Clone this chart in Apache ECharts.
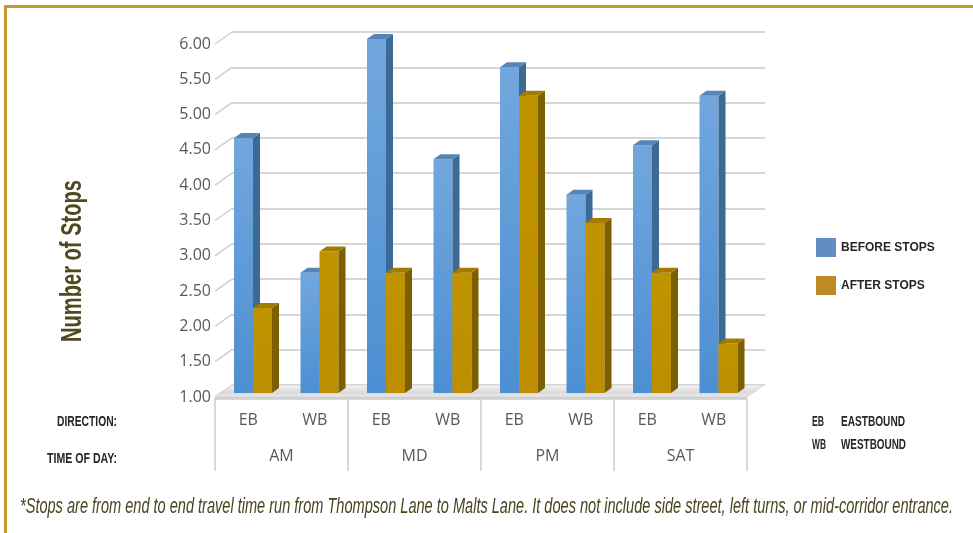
<!DOCTYPE html>
<html>
<head>
<meta charset="utf-8">
<script src="https://cdn.jsdelivr.net/npm/echarts@6/dist/echarts.min.js"></script>
<style>
html,body{margin:0;padding:0;background:#fff;}
#chart{width:973px;height:533px;}
</style>
</head>
<body>
<div id="chart"></div>
<script>
const categories = ['EB', 'WB', 'EB', 'WB', 'EB', 'WB', 'EB', 'WB'];
const timeOfDay = ['AM', 'MD', 'PM', 'SAT'];
const beforeStops = [4.6, 2.7, 6.0, 4.3, 5.6, 3.8, 4.5, 5.2];
const afterStops = [2.2, 3.0, 2.7, 2.7, 5.2, 3.4, 2.7, 1.7];
const yTicks = [1.00, 1.50, 2.00, 2.50, 3.00, 3.50, 4.00, 4.50, 5.00, 5.50, 6.00];
const seriesNames = ['BEFORE STOPS', 'AFTER STOPS'];
const footnote = '*Stops are from end to end travel time run from Thompson Lane to Malts Lane. It does not include side street, left turns, or mid-corridor entrance.';

const SANS = '"Liberation Sans", Arial, sans-serif';
const BODY = '"Open Sans", "Liberation Sans", sans-serif';

// measure text to condense it (no narrow font available offline)
const mctx = document.createElement('canvas').getContext('2d');
function fit(text, font, target) {
  mctx.font = font;
  return target / mctx.measureText(text).width;
}

const chart = echarts.init(document.getElementById('chart'), null, {renderer: 'canvas'});

const DEPTH_X = 17, DEPTH_Y = -12;
const BAR_W = 19, BAR_DX = 7, BAR_DY = -5;

function barRenderer(side, c) {
  return function (params, api) {
    const i = api.value(0), v = api.value(1);
    const top = api.coord([i, v]);
    const base = api.coord([i, yTicks[0]]);
    const cx = top[0] - 3.5;
    const x0 = side < 0 ? cx - BAR_W : cx;
    const x1 = x0 + BAR_W;
    const yt = top[1], yb = base[1];
    return {
      type: 'group',
      children: [
        {type: 'rect', shape: {x: x0, y: yt, width: BAR_W, height: yb - yt},
         style: {fill: new echarts.graphic.LinearGradient(0, 0, 0, 1, [
           {offset: 0, color: c.frontTop}, {offset: 1, color: c.frontBottom}])}},
        {type: 'polygon', shape: {points: [[x1, yt], [x1 + BAR_DX, yt + BAR_DY], [x1 + BAR_DX, yb + BAR_DY], [x1, yb]]},
         style: {fill: c.side}},
        {type: 'polygon', shape: {points: [[x0, yt], [x0 + BAR_DX, yt + BAR_DY], [x1 + BAR_DX, yt + BAR_DY], [x1, yt]]},
         style: {fill: c.top}}
      ]
    };
  };
}

const blue = {frontTop: '#72A7DD', frontBottom: '#4C8FD2', side: '#3D6997', top: '#5484B8'};
const gold = {frontTop: '#C09300', frontBottom: '#BC8E00', side: '#7D5F00', top: '#A27B00'};

function condensedText(x, y, text, font, width, align, color, extra) {
  return Object.assign({
    type: 'text', x: x, y: y, scaleX: fit(text, font, width), silent: true,
    style: {text: text, fill: color, font: font, textAlign: align, textVerticalAlign: 'middle'}
  }, extra || {});
}

const labFont = 'bold 15px ' + SANS;
const labColor = '#262626';

const option = {
  animation: false,
  backgroundColor: '#ffffff',
  grid: [
    {left: 215, top: 44, width: 532, height: 353},   // front plane
    {left: 232, top: 32, width: 533, height: 353},   // back wall
    {left: 223.25, top: 39, width: 532, height: 354} // bar plane
  ],
  xAxis: [
    {gridIndex: 0, type: 'category', data: categories, position: 'bottom',
     axisLine: {show: false}, axisTick: {show: false},
     axisLabel: {margin: 15, fontSize: 16, color: '#595959', fontFamily: BODY}},
    {gridIndex: 0, type: 'category', data: timeOfDay, position: 'bottom', offset: 2,
     axisLine: {show: true, lineStyle: {color: '#d9d9d9', width: 2}},
     axisTick: {show: true, length: 72, lineStyle: {color: '#d9d9d9', width: 2}},
     axisLabel: {margin: 49, fontSize: 16, color: '#595959', fontFamily: BODY}},
    {gridIndex: 1, type: 'category', data: categories, show: false},
    {gridIndex: 2, type: 'category', data: categories, show: false}
  ],
  yAxis: [
    {gridIndex: 0, type: 'value', min: 1, max: 6, interval: 0.5,
     axisLine: {show: false}, axisTick: {show: false}, splitLine: {show: false},
     axisLabel: {margin: 4, fontSize: 16, color: '#595959', fontFamily: BODY,
       formatter: v => Number(v).toFixed(2)}},
    {gridIndex: 1, type: 'value', min: 1, max: 6, interval: 0.5,
     axisLine: {show: false}, axisTick: {show: false}, axisLabel: {show: false},
     splitLine: {show: true, lineStyle: {color: '#d6d6d6', width: 2}}},
    {gridIndex: 2, type: 'value', min: 1, max: 6, interval: 0.5, show: false,
     splitLine: {show: false}}
  ],
  legend: {
    orient: 'vertical', left: 811, top: 233, itemWidth: 20, itemHeight: 19, itemGap: 19,
    textStyle: {fontFamily: SANS, fontWeight: 'bold', fontSize: 12, color: '#262626'},
    data: [
      {name: seriesNames[0], icon: 'rect', itemStyle: {color: '#628DC3'}},
      {name: seriesNames[1], icon: 'rect', itemStyle: {color: '#BE8A24'}}
    ]
  },
  series: [
    {
      name: 'slants', type: 'custom', xAxisIndex: 0, yAxisIndex: 0, silent: true, z: 1,
      data: yTicks.map(v => [0, v]),
      renderItem: function (params, api) {
        const p = api.coord([0, api.value(1)]);
        const x = params.coordSys.x;
        return {type: 'line', shape: {x1: x, y1: p[1], x2: x + DEPTH_X, y2: p[1] + DEPTH_Y},
          style: {stroke: '#cfcfcf', lineWidth: 1.5}};
      }
    },
    {
      name: 'floor', type: 'custom', xAxisIndex: 0, yAxisIndex: 0, silent: true, z: 1,
      data: [[0, yTicks[0]]],
      renderItem: function (params, api) {
        const p = api.coord([0, api.value(1)]);
        const cs = params.coordSys;
        const xl = cs.x, xr = cs.x + cs.width, y = p[1];
        return {type: 'group', children: [
          {type: 'polygon', shape: {points: [[xl, y], [xr, y], [xr + DEPTH_X, y + DEPTH_Y], [xl + DEPTH_X, y + DEPTH_Y]]},
           style: {fill: new echarts.graphic.LinearGradient(0, 0, 0, 1, [
             {offset: 0, color: '#f6f6f6'}, {offset: 0.6, color: '#dadada'}, {offset: 1, color: '#ececec'}]),
             stroke: '#d4d4d4', lineWidth: 1}},
          {type: 'rect', shape: {x: xl, y: y, width: cs.width, height: 2}, style: {fill: '#d0d0d0'}}
        ]};
      }
    },
    {
      name: seriesNames[0], type: 'custom', xAxisIndex: 3, yAxisIndex: 2, z: 2,
      itemStyle: {color: '#628DC3'},
      data: beforeStops.map((v, i) => [i, v]),
      renderItem: barRenderer(-1, blue)
    },
    {
      name: seriesNames[1], type: 'custom', xAxisIndex: 3, yAxisIndex: 2, z: 2,
      itemStyle: {color: '#BE8A24'},
      data: afterStops.map((v, i) => [i, v]),
      renderItem: barRenderer(1, gold)
    }
  ],
  graphic: [
    {type: 'rect', shape: {x: 4, y: 5, width: 969, height: 3}, style: {fill: '#C8962E'}, silent: true},
    {type: 'rect', shape: {x: 4, y: 5, width: 3, height: 528}, style: {fill: '#C8962E'}, silent: true},
    condensedText(73, 261, 'Number of Stops', 'bold 30px ' + SANS, 162, 'center', '#4E4A1E', {rotation: Math.PI / 2}),
    condensedText(117, 422, 'DIRECTION:', labFont, 60, 'right', labColor),
    condensedText(117, 459, 'TIME OF DAY:', labFont, 70, 'right', labColor),
    condensedText(812, 422, 'EB', labFont, 12, 'left', labColor),
    condensedText(841, 422, 'EASTBOUND', labFont, 64, 'left', labColor),
    condensedText(812, 445, 'WB', labFont, 14, 'left', labColor),
    condensedText(841, 445, 'WESTBOUND', labFont, 65, 'left', labColor),
    condensedText(20, 507, footnote, 'italic 22px ' + SANS, 933, 'left', '#4A4520')
  ]
};

chart.setOption(option);
</script>
</body>
</html>
